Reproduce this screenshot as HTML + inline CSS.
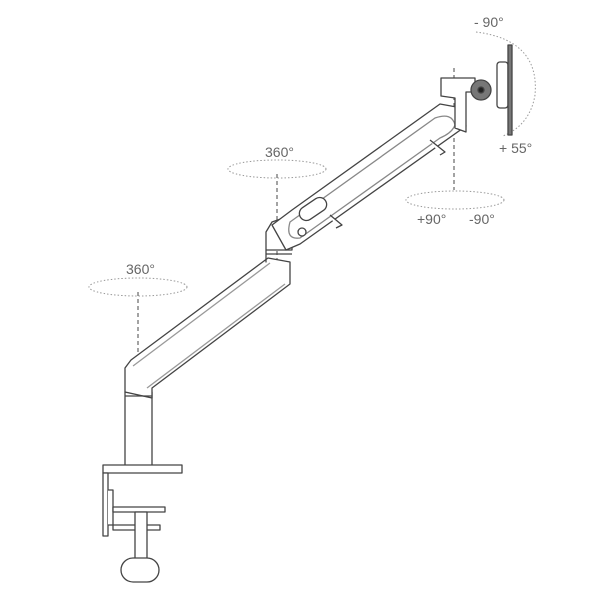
<!DOCTYPE html>
<html><head><style>body{margin:0;background:#fff}svg{display:block}text{font-family:"Liberation Sans",sans-serif;fill:#666;font-size:14px}</style></head>
<body><svg width="600" height="600" viewBox="0 0 600 600">
<g fill="none" stroke="#999" stroke-width="1" stroke-dasharray="1.5 2">
<ellipse cx="138" cy="287" rx="49" ry="9"/>
<ellipse cx="277" cy="169" rx="49" ry="9"/>
<ellipse cx="455" cy="200" rx="49" ry="9"/>
<path d="M476 32 Q540 40 535 95 Q530 125 503 136"/>
</g>
<g fill="none" stroke="#666" stroke-width="1.2" stroke-dasharray="4 3">
<line x1="138" y1="292" x2="138" y2="412"/>
<line x1="277" y1="174" x2="277" y2="270"/>
<line x1="454" y1="68" x2="454" y2="190"/>
</g>
<g fill="#fff" stroke="#444" stroke-width="1.3" stroke-linejoin="round">
<rect x="125" y="392" width="27" height="74"/>
<path d="M125 392 L125 368 L131 360 L268 258 L290 262 L290 284 L152 388 L152 398 Z"/>
<line x1="133" y1="366" x2="270" y2="263" stroke="#999"/>
<line x1="147" y1="388" x2="285" y2="284" stroke="#999"/>
<line x1="125" y1="396" x2="152" y2="396"/>
<path d="M266 262 L266 232 L272 222 L292 215 L292 250 L266 250 Z"/>
<line x1="266" y1="254" x2="292" y2="254"/>
<path d="M272 225 L292 210 L440 104 L462 108 L466 126 L300 244 L286 250 Z"/>
<path d="M290 222 L435 118 Q452 112 455 125 Q452 133 440 138 L300 238 Q285 240 290 222 Z" stroke="#888"/>
<rect x="298" y="202" width="30" height="14" rx="7" transform="rotate(-34 313 209)"/>
<circle cx="302" cy="232" r="4"/>
<path d="M330 215 L342 225 L336 228"/>
<path d="M430 140 L445 152 L440 155"/>
<path d="M441 78 L475 78 L475 92 L466 92 L466 132 L455 128 L455 98 L441 96 Z"/>
<rect x="497" y="62" width="11" height="46" rx="3"/>
<rect x="508" y="45" width="4" height="90" fill="#777"/>
<circle cx="481" cy="90" r="10" fill="#777"/>
<circle cx="481" cy="90" r="3" fill="#222"/>
<rect x="103" y="465" width="79" height="8"/>
<rect x="103" y="473" width="5" height="63"/>
<path d="M108 490 L113 490 L113 530 L160 530 L160 525 L108 525"/>
<rect x="113" y="507" width="52" height="5"/>
<rect x="135" y="512" width="12" height="48"/>
<rect x="121" y="558" width="38" height="24" rx="12"/>
</g>
<text x="126" y="274">360°</text>
<text x="265" y="157">360°</text>
<text x="417" y="224">+90°</text>
<text x="469" y="224">-90°</text>
<text x="474" y="27">- 90°</text>
<text x="499" y="153">+ 55°</text>
</svg></body></html>
